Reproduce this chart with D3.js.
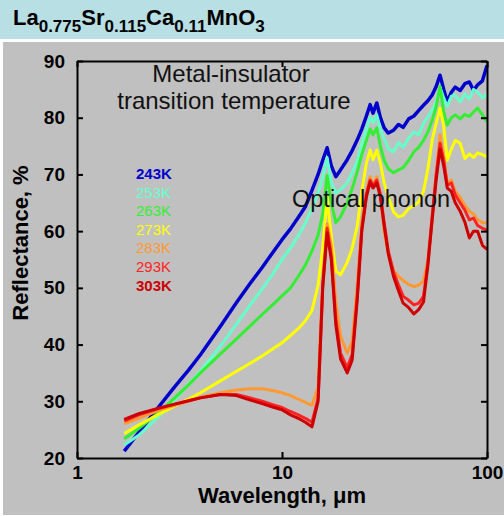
<!DOCTYPE html>
<html>
<head>
<meta charset="utf-8">
<script src="https://cdn.jsdelivr.net/npm/d3@7"></script>
<style>
  html, body { margin: 0; padding: 0; background: #fff; }
  svg { display: block; font-family: "Liberation Sans", Arial, sans-serif; }
</style>
</head>
<body>
<svg id="chart" width="504" height="516"></svg>
<script>
// wavelength grid, micrometres
var wavelengths = [1.7, 2.0, 2.5, 3.0, 3.5, 4.0, 5.0, 6.0, 7.0, 8.0, 9.0, 10, 11, 12, 13, 14, 15, 15.8, 16.6, 17.4,
  18.3, 19.3, 20.8, 22, 23.3, 24.5, 25.8, 26.9, 27.8, 29.0, 30.2, 31.5, 33, 35, 37, 39, 41.5, 44, 46.5, 49,
  51.5, 54, 56.5, 59, 61.5, 64, 67, 70, 74, 78, 82, 86, 90, 95, 100];

// reflectance, % (one array per temperature)
var r243 = [21.2, 24.5, 29.0, 32.6, 35.5, 38.2, 43.2, 47.4, 50.8, 53.6, 56.2, 58.5, 60.4, 62.4, 64.3, 67.2, 70.0, 72.5, 74.7, 71.5,
  69.6, 70.8, 72.6, 74.2, 76.1, 78.0, 80.3, 82.3, 80.8, 82.6, 80.0, 78.2, 77.3, 77.8, 78.8, 78.3, 79.8, 80.3, 81.3, 82.2,
  83.0, 84.0, 85.5, 87.5, 85.0, 82.8, 84.5, 85.4, 84.8, 86.0, 86.3, 84.8, 85.8, 86.5, 89.2];
var r253 = [22.3, 24.0, 27.3, 30.3, 33.0, 35.3, 39.7, 43.6, 47.0, 49.8, 52.4, 55.0, 57.0, 59.2, 61.4, 64.0, 66.8, 69.5, 73.0, 68.5,
  66.7, 67.3, 68.5, 70.3, 72.4, 75.5, 78.0, 80.1, 79.1, 80.5, 78.0, 76.3, 74.5, 74.0, 75.6, 74.8, 76.4, 77.5, 77.0, 79.0,
  80.2, 81.3, 82.8, 85.4, 83.5, 82.0, 83.8, 84.0, 82.8, 84.2, 83.3, 85.0, 84.5, 83.5, 84.2];
var r263 = [23.4, 25.2, 28.0, 30.6, 32.9, 35.0, 38.3, 41.0, 43.3, 45.3, 47.0, 48.6, 50.0, 52.0, 54.0, 56.5, 59.3, 63.0, 69.8, 65.0,
  61.5, 62.5, 65.0, 67.5, 70.5, 73.5, 76.0, 78.0, 77.0, 78.2, 75.0, 72.5, 71.0, 70.3, 70.8, 71.2, 72.5, 74.0, 74.8, 76.0,
  77.5, 79.5, 82.0, 85.5, 81.0, 78.7, 80.0, 80.5, 79.8, 80.6, 80.2, 81.0, 81.7, 80.5, 79.3];
var r273 = [24.3, 25.8, 27.7, 29.2, 30.4, 31.5, 33.6, 35.3, 36.7, 38.0, 39.2, 40.3, 41.6, 42.8, 44.2, 46.0, 50.5, 57.0, 66.0, 59.0,
  53.0, 52.3, 54.5, 57.0, 61.0, 67.0, 72.0, 74.3, 72.6, 74.3, 72.0, 68.5, 66.0, 63.4, 62.5, 62.8, 64.0, 64.5, 65.2, 67.0,
  71.0, 76.0, 79.0, 81.7, 78.5, 72.5, 74.5, 76.0, 75.5, 72.8, 73.6, 73.0, 73.8, 73.5, 73.1];
var r283 = [26.0, 27.0, 28.4, 29.3, 30.0, 30.7, 31.5, 32.0, 32.2, 32.2, 31.9, 31.5, 31.0, 30.4, 29.8, 29.3, 32.5, 51.0, 61.3, 57.5,
  47.5, 41.5, 38.5, 40.5, 50.5, 61.5, 67.0, 69.6, 68.0, 69.6, 66.5, 60.0, 56.0, 53.0, 52.0, 51.3, 50.6, 50.2, 50.5, 51.2,
  55.0, 62.0, 70.0, 77.0, 73.0, 68.5, 69.0, 67.0, 66.0, 64.5, 63.5, 63.0, 62.0, 61.5, 61.5];
var r293 = [26.5, 27.6, 28.7, 29.5, 30.1, 30.6, 31.2, 31.2, 30.6, 30.0, 29.4, 28.9, 28.2, 27.6, 27.0, 26.3, 30.5, 50.5, 60.5, 55.5,
  44.5, 38.5, 35.9, 38.3, 48.8, 60.5, 66.5, 69.0, 68.0, 69.0, 66.5, 61.5, 56.5, 52.8, 50.5, 48.5, 47.8, 47.0, 47.3, 48.5,
  54.5, 62.5, 70.0, 75.5, 72.5, 68.1, 68.5, 66.4, 65.0, 63.7, 62.0, 62.3, 61.0, 60.5, 60.2];
var r303 = [26.8, 27.8, 28.8, 29.5, 30.1, 30.6, 31.2, 31.0, 30.2, 29.6, 29.0, 28.5, 27.6, 27.0, 26.3, 25.5, 30.0, 50.0, 59.7, 55.0,
  43.5, 37.5, 35.0, 37.3, 48.0, 60.0, 66.0, 68.7, 67.6, 68.5, 66.0, 61.0, 56.0, 52.0, 49.5, 47.3, 46.5, 45.4, 46.2, 47.5,
  54.0, 62.0, 69.0, 74.5, 71.5, 67.6, 67.0, 65.0, 63.5, 61.6, 58.8, 60.0, 60.0, 57.5, 56.8];

var temperatures = ["243K", "253K", "263K", "273K", "283K", "293K", "303K"];
var seriesValues = [r243, r253, r263, r273, r283, r293, r303];
var colors = ["#0000cc", "#66ffcc", "#33ee33", "#ffff00", "#ff9933", "#ff2222", "#cc0000"];

var xTicks = [1, 10, 100];
var yTicks = [20, 30, 40, 50, 60, 70, 80, 90];

var svg = d3.select("#chart");

// title band + grey panel
svg.append("rect").attr("x", 0).attr("y", 0).attr("width", 504).attr("height", 39).attr("fill", "#b8dfe3");
svg.append("rect").attr("x", 3).attr("y", 42).attr("width", 501).attr("height", 473).attr("fill", "#c0c0c0");

var title = svg.append("text").attr("x", 13).attr("y", 25)
  .attr("font-weight", "bold").attr("font-size", 22).attr("fill", "#000");
[["La", 0], ["0.775", 1], ["Sr", 0], ["0.115", 1], ["Ca", 0], ["0.11", 1], ["MnO", 0], ["3", 1]].forEach(function(p, i, arr) {
  var prevSub = i > 0 && arr[i - 1][1];
  var dy = p[1] && !prevSub ? 6.5 : (!p[1] && prevSub ? -6.5 : 0);
  title.append("tspan").attr("dy", dy).attr("font-size", p[1] ? 17 : 22).text(p[0]);
});

var x = d3.scaleLog().domain([1, 100]).range([77, 487]);
var y = d3.scaleLinear().domain([20, 90]).range([458, 61]);

var line = d3.line()
  .x(function(d) { return x(d[0]); })
  .y(function(d) { return y(d[1]); });

var curves = svg.append("g");
seriesValues.forEach(function(vals, i) {
  var pts = wavelengths.map(function(w, j) { return [w, vals[j]]; });
  curves.append("path")
    .datum(pts)
    .attr("d", line)
    .attr("fill", "none")
    .attr("stroke", colors[i])
    .attr("stroke-width", i === 0 ? 3.5 : 3)
    .attr("stroke-linejoin", "round");
});

// axes: ticks inward on all four sides
function styleAxis(g) {
  g.select(".domain").attr("stroke", "#000").attr("stroke-width", 2);
  g.selectAll(".tick line").attr("stroke", "#000").attr("stroke-width", 2);
  g.selectAll(".tick text").attr("fill", "#000").attr("font-weight", "bold").attr("font-size", 19)
    .attr("font-family", "Liberation Sans, Arial, sans-serif");
}

svg.append("g").attr("transform", "translate(0,458)")
  .call(d3.axisBottom(x).tickValues(xTicks).tickFormat(d3.format("d")).tickSizeInner(-6).tickSizeOuter(0).tickPadding(8))
  .call(styleAxis);
svg.append("g").attr("transform", "translate(0,61)")
  .call(d3.axisTop(x).tickValues(xTicks).tickFormat("").tickSizeInner(-6).tickSizeOuter(0))
  .call(styleAxis);
svg.append("g").attr("transform", "translate(77,0)")
  .call(d3.axisLeft(y).tickValues(yTicks).tickSizeInner(-6).tickSizeOuter(0).tickPadding(12))
  .call(styleAxis);
svg.append("g").attr("transform", "translate(487,0)")
  .call(d3.axisRight(y).tickValues(yTicks).tickFormat("").tickSizeInner(-6).tickSizeOuter(0))
  .call(styleAxis);

// axis titles
svg.append("text").attr("x", 282).attr("y", 503).attr("text-anchor", "middle")
  .attr("font-weight", "bold").attr("font-size", 22).text("Wavelength, \u03bcm");
svg.append("text").attr("transform", "translate(28,243) rotate(-90)").attr("text-anchor", "middle")
  .attr("font-weight", "bold").attr("font-size", 22).text("Reflectance, %");

// annotations
svg.append("text").attr("x", 231).attr("y", 82).attr("text-anchor", "middle").attr("font-size", 24).attr("fill", "#111")
  .text("Metal-insulator");
svg.append("text").attr("x", 234).attr("y", 109).attr("text-anchor", "middle").attr("font-size", 24).attr("fill", "#111")
  .text("transition temperature");
svg.append("text").attr("x", 292).attr("y", 207).attr("font-size", 23.5).attr("fill", "#111")
  .text("Optical phonon");

// legend
temperatures.forEach(function(t, i) {
  svg.append("text").attr("x", 136).attr("y", 179 + i * 18.6)
    .attr("font-size", 15).attr("font-weight", (i === 0 || i === 6) ? "bold" : "normal")
    .attr("fill", colors[i]).text(t);
});
</script>
</body>
</html>
